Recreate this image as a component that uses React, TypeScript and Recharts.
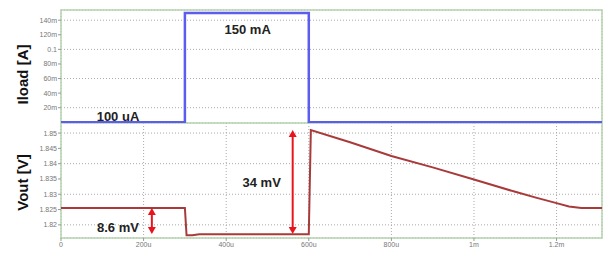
import React from 'react';
import {
  LineChart,
  Line,
  XAxis,
  YAxis,
  CartesianGrid,
  ReferenceArea,
  ReferenceLine,
  ReferenceDot
} from 'recharts';

// time in seconds
const timeTicks = [0, 200e-6, 400e-6, 600e-6, 800e-6, 1e-3, 1.2e-3];
const timeLabels = ['0', '200u', '400u', '600u', '800u', '1m', '1.2m'];

const iloadTime = [0, 300e-6, 300e-6, 600e-6, 600e-6, 1.31e-3];
const iloadValue = [0.0001, 0.0001, 0.15, 0.15, 0.0001, 0.0001];
const iloadTicks = [0.02, 0.04, 0.06, 0.08, 0.1, 0.12, 0.14];
const iloadLabels = ['20m', '40m', '60m', '80m', '0.1', '120m', '140m'];

const voutTime = [0, 300e-6, 304e-6, 318e-6, 335e-6, 600e-6, 605e-6, 700e-6, 800e-6, 900e-6, 1e-3, 1.1e-3, 1.15e-3, 1.2e-3, 1.23e-3, 1.26e-3, 1.31e-3];
const voutValue = [1.8255, 1.8255, 1.8166, 1.8166, 1.8169, 1.8169, 1.851, 1.847, 1.8425, 1.8388, 1.8348, 1.8308, 1.8289, 1.8271, 1.8260, 1.8255, 1.8255];
const voutTicks = [1.82, 1.825, 1.83, 1.835, 1.84, 1.845, 1.85];

const X_MAX = 1.31e-3;
const I_DOMAIN: [number, number] = [-0.001, 0.154];
const V_DOMAIN: [number, number] = [1.8157, 1.8533];

const iloadData = iloadTime.map((t, i) => ({ t, i: iloadValue[i] }));
const voutData = voutTime.map((t, i) => ({ t, v: voutValue[i] }));

const tickStyle = { fontSize: 7, fill: '#777', fontFamily: 'Arial, "Liberation Sans", sans-serif' };
const noteStyle = { fontSize: 13, fontWeight: 700, fill: '#222', fontFamily: 'Arial, "Liberation Sans", sans-serif' };
const gridColor = '#aaaaaa';
const frameColor = '#b7d3ae';

const fmtTime = (v: number) => {
  const idx = timeTicks.findIndex((t) => Math.abs(t - v) < 1e-9);
  return idx >= 0 ? timeLabels[idx] : '';
};
const fmtI = (v: number) => {
  const idx = iloadTicks.findIndex((t) => Math.abs(t - v) < 1e-9);
  return idx >= 0 ? iloadLabels[idx] : '';
};
const fmtV = (v: number) => String(Number(v.toFixed(3)));

const Arrow = (p: any) => {
  const { x1, y1, y2 } = p;
  const top = Math.min(y1, y2);
  const bot = Math.max(y1, y2);
  const c = '#e8141c';
  return (
    <g>
      <line x1={x1} y1={top + 4} x2={x1} y2={bot - 4} stroke={c} strokeWidth={2} />
      <polygon points={`${x1 - 4},${top + 7} ${x1},${top} ${x1 + 4},${top + 7}`} fill={c} />
      <polygon points={`${x1 - 4},${bot - 7} ${x1},${bot} ${x1 + 4},${bot - 7}`} fill={c} />
    </g>
  );
};

const AxisTitle = (text: string, shift: number) => (props: any) => {
  const vb = props.viewBox || {};
  const x = 22;
  const y = (vb.y || 0) + (vb.height || 0) / 2 + shift;
  return (
    <text
      x={x}
      y={y}
      transform={`rotate(-90, ${x}, ${y})`}
      textAnchor="middle"
      dominantBaseline="central"
      style={{ fontSize: 15, fontWeight: 700, fill: '#111', fontFamily: 'Arial, "Liberation Sans", sans-serif' }}
    >
      {text}
    </text>
  );
};

const App: React.FC = () => {
  return (
    <div style={{ position: 'absolute', left: 0, top: 0, width: 605, height: 253, background: '#fff' }}>
      <LineChart width={605} height={123} data={iloadData} margin={{ top: 10, right: 3, bottom: 0, left: 0 }}>
        <CartesianGrid stroke={gridColor} strokeDasharray="1 2" />
        <XAxis
          dataKey="t"
          type="number"
          domain={[0, X_MAX]}
          ticks={timeTicks}
          height={0}
          tick={false}
          axisLine={false}
          tickLine={false}
        />
        <YAxis
          type="number"
          domain={I_DOMAIN}
          ticks={iloadTicks}
          width={61}
          tick={tickStyle}
          tickFormatter={fmtI}
          tickSize={3}
          tickMargin={1}
          axisLine={false}
          tickLine={{ stroke: '#999' }}
          label={{ content: AxisTitle('Iload [A]', 8) }}
        />
        <ReferenceArea x1={0} x2={X_MAX} y1={I_DOMAIN[0]} y2={I_DOMAIN[1]} stroke={frameColor} strokeWidth={1.5} fill="none" fillOpacity={0} />
        <Line type="linear" dataKey="i" stroke="#5c5cf0" strokeWidth={2.5} dot={false} isAnimationActive={false} />
        <ReferenceDot x={138e-6} y={0.0086} r={0} fill="none" stroke="none" label={{ value: '100 uA', position: 'center', style: noteStyle }} />
        <ReferenceDot x={452e-6} y={0.128} r={0} fill="none" stroke="none" label={{ value: '150 mA', position: 'center', style: noteStyle }} />
      </LineChart>
      <LineChart width={605} height={130} data={voutData} margin={{ top: 0, right: 3, bottom: 0, left: 0 }}>
        <CartesianGrid stroke={gridColor} strokeDasharray="1 2" />
        <XAxis
          dataKey="t"
          type="number"
          domain={[0, X_MAX]}
          ticks={timeTicks}
          interval={0}
          height={15}
          tick={tickStyle}
          tickFormatter={fmtTime}
          tickSize={3}
          tickMargin={1}
          axisLine={false}
          tickLine={{ stroke: '#999' }}
        />
        <YAxis
          type="number"
          domain={V_DOMAIN}
          ticks={voutTicks}
          width={61}
          tick={tickStyle}
          tickFormatter={fmtV}
          tickSize={3}
          tickMargin={1}
          axisLine={false}
          tickLine={{ stroke: '#999' }}
          label={{ content: AxisTitle('Vout [V]', 2) }}
        />
        <ReferenceArea x1={0} x2={X_MAX} y1={V_DOMAIN[0]} y2={V_DOMAIN[1]} stroke={frameColor} strokeWidth={1.5} fill="none" fillOpacity={0} />
        <Line type="linear" dataKey="v" stroke="#a83a3a" strokeWidth={2} dot={false} isAnimationActive={false} />
        <ReferenceLine segment={[{ x: 220e-6, y: 1.817 }, { x: 220e-6, y: 1.8255 }]} shape={Arrow} />
        <ReferenceLine segment={[{ x: 561e-6, y: 1.817 }, { x: 561e-6, y: 1.851 }]} shape={Arrow} />
        <ReferenceDot x={138e-6} y={1.8193} r={0} fill="none" stroke="none" label={{ value: '8.6 mV', position: 'center', style: noteStyle }} />
        <ReferenceDot x={486e-6} y={1.834} r={0} fill="none" stroke="none" label={{ value: '34 mV', position: 'center', style: noteStyle }} />
      </LineChart>
    </div>
  );
};

export default App;
